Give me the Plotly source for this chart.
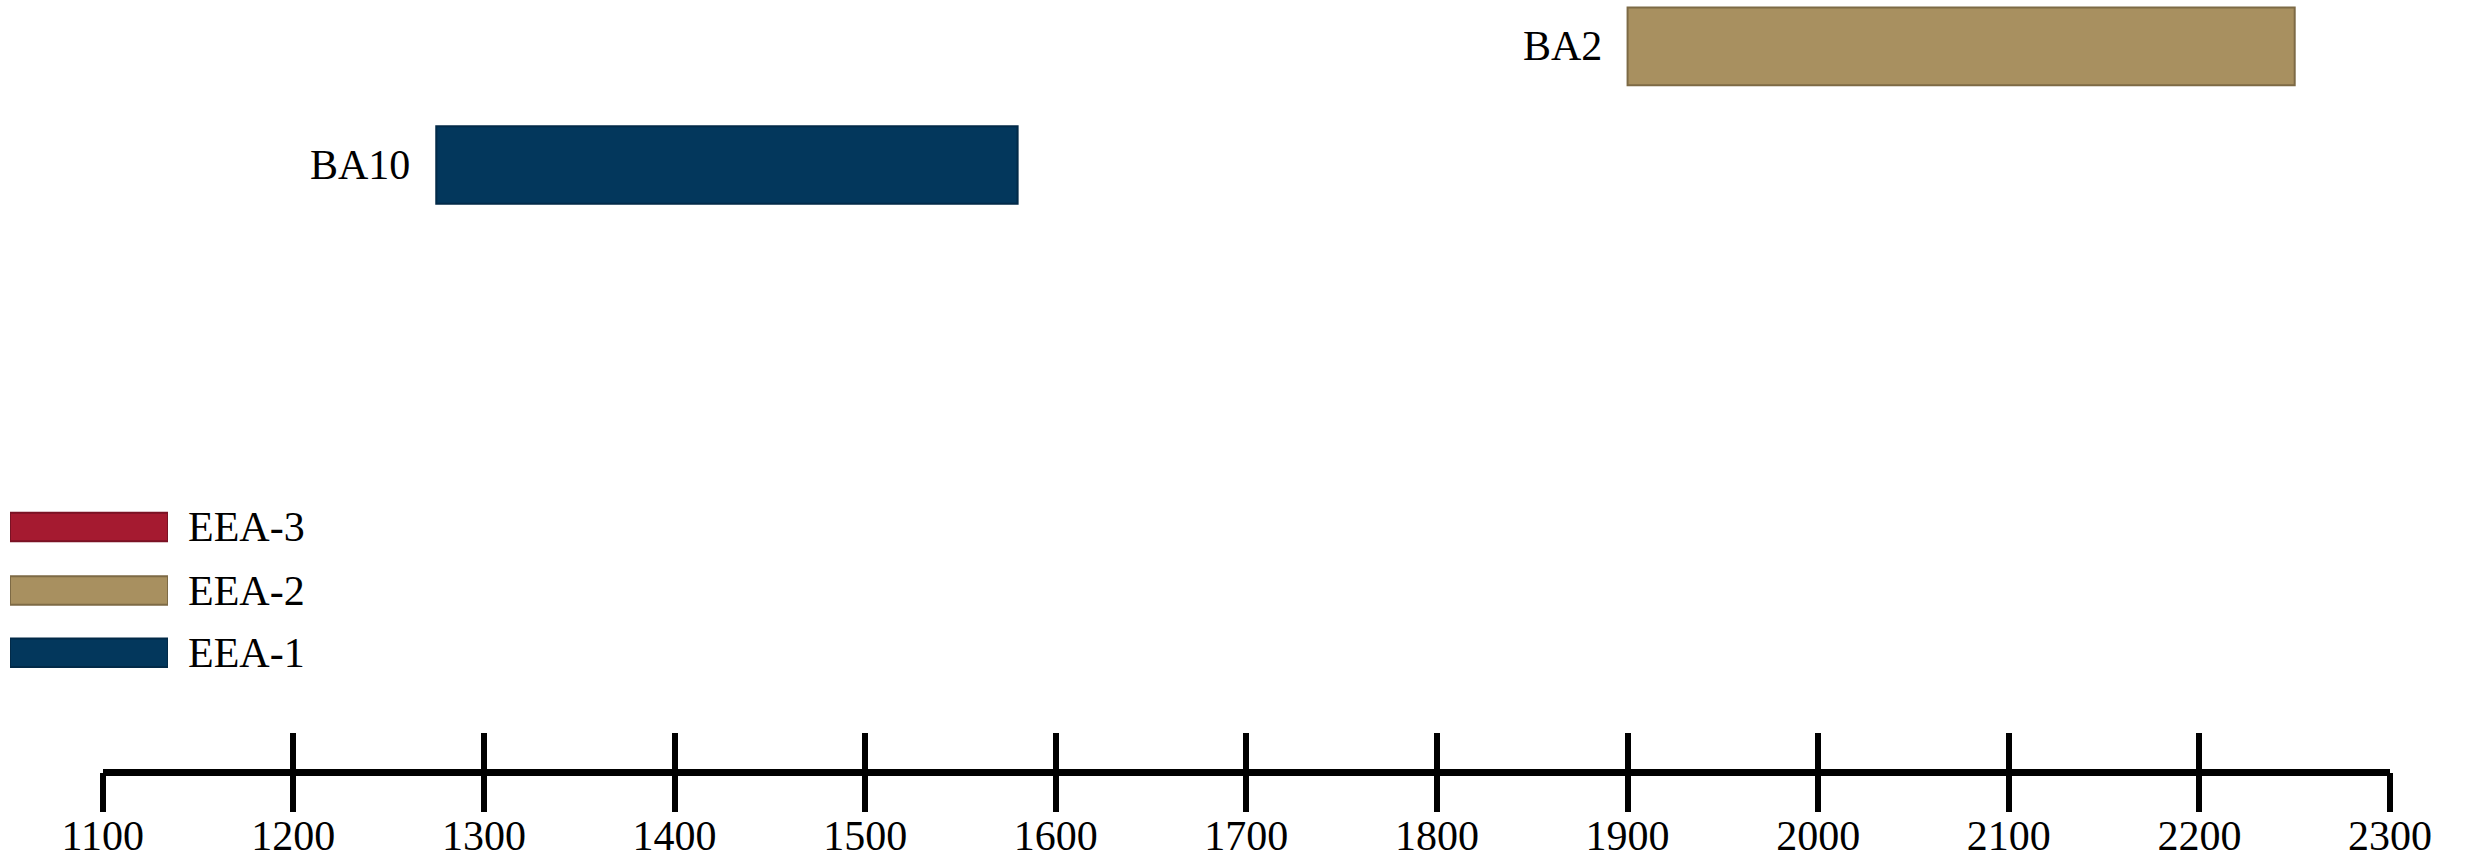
import plotly.graph_objects as go

# ---- data ----
bar_labels = ["BA2", "BA10"]
bar_start = [1900, 1275]
bar_end = [2250, 1580]
bar_colors = ["#A89060", "#03375C"]
bar_lines = ["#7D6A45", "#022A48"]

legend_labels = ["EEA-3", "EEA-2", "EEA-1"]
legend_colors = ["#A51A30", "#A89060", "#03375C"]
legend_lines = ["#7A1224", "#7D6A45", "#022A48"]

tick_vals = [1100, 1200, 1300, 1400, 1500, 1600, 1700, 1800, 1900, 2000, 2100, 2200, 2300]

W, H = 2466, 860
FONT = "Liberation Serif"

# row positions (in y-axis units)
bar_rows = [0, 1]
legend_rows = [4.05, 4.585, 5.11]

fig = go.Figure()

for lab, s, e, c, lc, r in zip(bar_labels, bar_start, bar_end, bar_colors, bar_lines, bar_rows):
    fig.add_trace(go.Bar(
        x=[e - s], base=[s], y=[r], orientation="h", width=0.655,
        marker=dict(color=c, line=dict(color=lc, width=2)),
        xaxis="x", yaxis="y", showlegend=False, hoverinfo="skip",
    ))
    fig.add_annotation(x=s, y=r, xref="x", yref="y", text=lab, showarrow=False,
                       xanchor="right", yanchor="middle", xshift=-24,
                       font=dict(family=FONT, size=42, color="black"))

for lab, c, lc, r in zip(legend_labels, legend_colors, legend_lines, legend_rows):
    fig.add_trace(go.Bar(
        x=[1], base=[0], y=[r], orientation="h", width=0.24,
        marker=dict(color=c, line=dict(color=lc, width=2)),
        xaxis="x3", yaxis="y", showlegend=False, hoverinfo="skip",
    ))
    fig.add_annotation(x=1, y=r, xref="x3", yref="y", text=lab, showarrow=False,
                       xanchor="left", yanchor="middle", xshift=18,
                       font=dict(family=FONT, size=42, color="black"))

# invisible traces so the extra tick axes render
for ax in ["x2", "x4"]:
    fig.add_trace(go.Scatter(x=[tick_vals[0]], y=[0], xaxis=ax, yaxis="y",
                             mode="markers", marker=dict(opacity=0), showlegend=False,
                             hoverinfo="skip"))

x_dom = [102.7 / W, 2390 / W]
axis_pos = 1 - 772 / H
row_px = 118.7
top_row = -46.3 / row_px
bottom_row = top_row + H / row_px

tick_common = dict(
    domain=x_dom, range=[tick_vals[0], tick_vals[-1]],
    anchor="free", position=axis_pos, automargin=False,
    tickvals=tick_vals, showticklabels=False, showline=False,
    ticklen=39, tickwidth=6, tickcolor="black",
    showgrid=False, zeroline=False, fixedrange=True,
)

fig.update_layout(
    width=W, height=H,
    margin=dict(l=0, r=0, t=0, b=0, autoexpand=False),
    paper_bgcolor="white", plot_bgcolor="rgba(0,0,0,0)",
    barmode="overlay",
    font=dict(family=FONT, color="black"),
    xaxis=dict(
        domain=x_dom, range=[tick_vals[0], tick_vals[-1]],
        anchor="free", position=axis_pos, automargin=False,
        showline=True, linecolor="black", linewidth=7,
        ticks="", ticklabelstandoff=24,
        tickvals=tick_vals, ticktext=[str(v) for v in tick_vals],
        tickfont=dict(family=FONT, size=42, color="black"),
        showgrid=False, zeroline=False, fixedrange=True,
    ),
    xaxis2=dict(overlaying="x", ticks="inside", **tick_common),
    xaxis4=dict(overlaying="x", ticks="outside", **tick_common),
    xaxis3=dict(
        domain=[10 / W, 168 / W], range=[0, 1], anchor="y",
        visible=False, fixedrange=True, automargin=False,
    ),
    yaxis=dict(
        domain=[0, 1], range=[bottom_row, top_row],
        visible=False, fixedrange=True, automargin=False,
    ),
)

fig.write_html(
    "out.html",
    config={"displayModeBar": False},
    post_script="document.body.style.margin='0';document.body.style.overflow='hidden';",
)
